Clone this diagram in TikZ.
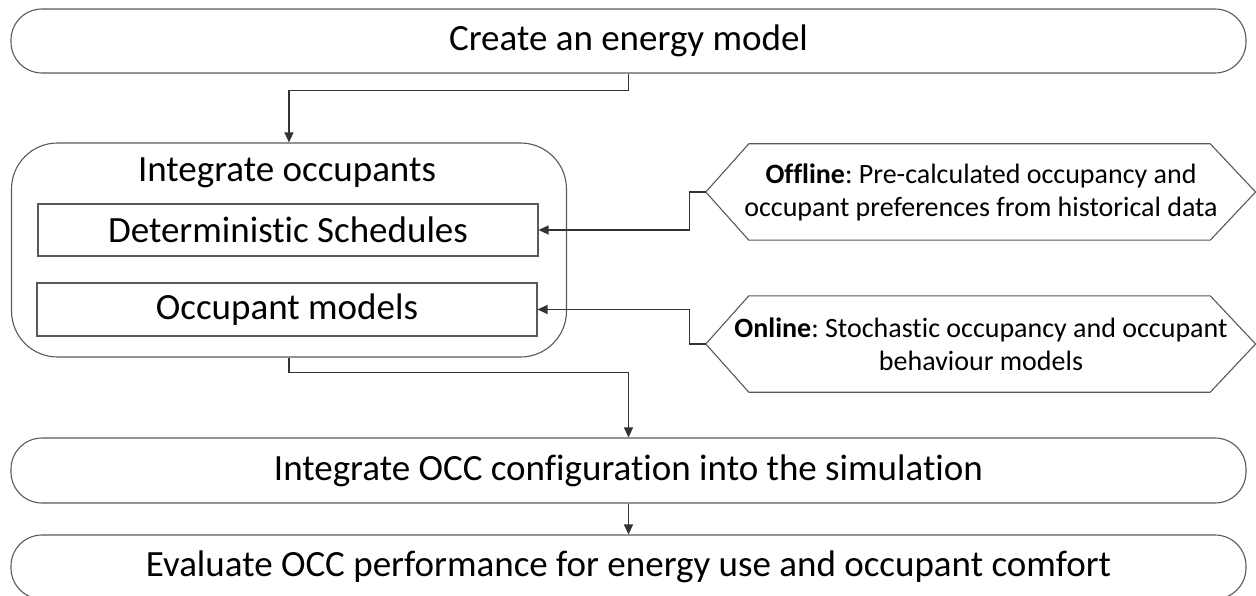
\documentclass[tikz,border=0pt]{standalone}
\usepackage{fontspec}
\setmainfont{Carlito}[Ligatures={NoCommon}]
\frenchspacing
\usetikzlibrary{arrows.meta,calc}

\tikzset{
  linecol/.style={draw=black!65, line width=1.1pt},
  stadium/.style={linecol, rounded corners=31pt, minimum width=1235pt,
    inner sep=0pt, font=\fontsize{37}{44}\selectfont},
  subbox/.style={linecol, rectangle, minimum width=500pt, minimum height=52pt,
    inner sep=0pt, font=\fontsize{37}{44}\selectfont},
  hexlabel/.style={draw=none, minimum width=550pt, minimum height=96pt,
    inner sep=0pt, align=center, font=\fontsize{28}{33}\selectfont},
  hexline/.style={linecol},
  arr/.style={draw=black!80, line width=1.2pt,
    -{Triangle[length=10pt,width=9pt]}},
}

\begin{document}
\begin{tikzpicture}[x=1pt,y=1pt]
  \useasboundingbox (0,0) rectangle (1256,-596);
  \clip (0,0) rectangle (1256,-596);

  % main process steps
  \node[stadium, minimum height=64pt] (create) at (628.5,-41) {Create an energy model};

  \node[linecol, rounded corners=46pt, minimum width=555pt, minimum height=214pt,
        inner sep=0pt] (occ) at (289,-250) {};
  \node[font=\fontsize{37}{44}\selectfont, inner sep=0pt] (occtitle) at (287,-173)
        {Integrate occupants};
  \node[subbox] (det) at (288,-230) {Deterministic Schedules};
  \node[subbox, minimum height=53pt] (om) at (287,-309.5) {Occupant models};

  \node[stadium, minimum height=65pt] (cfg) at (628.5,-470.5)
        {Integrate OCC configuration into the simulation};
  \node[stadium, minimum height=64pt] (eval) at (628.5,-567)
        {Evaluate OCC performance for energy use and occupant comfort};

  % data sources (hexagons)
  \node[hexlabel] (off) at (981,-192)
        {\textbf{Offline}: Pre-calculated occupancy and\\occupant preferences from historical data};
  \node[hexlabel] (on) at (981,-344)
        {\textbf{Online}: Stochastic occupancy and occupant\\behaviour models};

  \foreach \h in {off,on} {
    \draw[hexline] (\h.west) -- ([xshift=43pt]\h.north west)
      -- ([xshift=-46pt]\h.north east) -- ([xshift=-0.6pt]\h.east)
      -- ([xshift=-46pt]\h.south east) -- ([xshift=43pt]\h.south west) -- cycle;
  }

  % connectors
  \draw[arr] (create.south) -- ++(0,-17) -| (occ.north);
  \draw[arr] (off.west) -- ++(-16,0) |- (det.east);
  \draw[arr] (on.west) -- ++(-16,0) |- (om.east);
  \draw[arr] (occ.south) -- ++(0,-15) -| (cfg.north);
  \draw[arr] (cfg.south) -- (eval.north);
\end{tikzpicture}
\end{document}
